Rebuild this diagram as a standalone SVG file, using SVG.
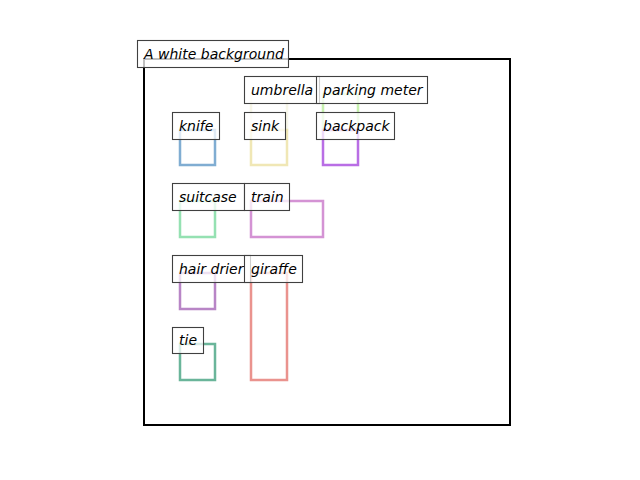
<svg xmlns="http://www.w3.org/2000/svg" width="640" height="480" viewBox="0 0 640 480">
<style>
.frame{fill:none;stroke:#000;stroke-width:2}
.obj{fill:none;stroke-width:2.5;stroke-opacity:0.85}
.lbl rect{fill:#fff;fill-opacity:0.75;stroke:#404040;stroke-width:1.1}
.lbl text{font-family:"DejaVu Sans",sans-serif;font-style:italic;font-size:14px;fill:#000}
</style>
<rect x="0" y="0" width="640" height="480" fill="#fff"/>
<rect class="frame" x="144" y="59" width="366" height="366"/>
<g id="objects">
<rect id="obj-umbrella" class="obj" x="251" y="94" width="36" height="36" stroke="#f6f4e4"/>
<rect id="obj-parking-meter" class="obj" x="323" y="94" width="35" height="36" stroke="#bdf0a0"/>
<rect id="obj-knife" class="obj" x="180" y="130" width="35" height="35" stroke="#6a9fca"/>
<rect id="obj-sink" class="obj" x="251" y="130" width="36" height="35" stroke="#ede3a8"/>
<rect id="obj-backpack" class="obj" x="323" y="130" width="35" height="35" stroke="#ad55e0"/>
<rect id="obj-suitcase" class="obj" x="180" y="201" width="35" height="36" stroke="#82dca4"/>
<rect id="obj-train" class="obj" x="251" y="201" width="72" height="36" stroke="#cc80cc"/>
<rect id="obj-hair-drier" class="obj" x="180" y="273" width="35" height="36" stroke="#ac70bc"/>
<rect id="obj-giraffe" class="obj" x="251" y="273" width="36" height="107" stroke="#e6807a"/>
<rect id="obj-tie" class="obj" x="180" y="344" width="35" height="36" stroke="#50a888"/>
</g>
<g id="label-title" class="lbl"><rect x="137.5" y="40.5" width="151" height="27"/><text x="144" y="59">A white background</text></g>
<g id="label-umbrella" class="lbl"><rect x="244.5" y="76.5" width="75" height="27"/><text x="251" y="95">umbrella</text></g>
<g id="label-parking-meter" class="lbl"><rect x="316.5" y="76.5" width="111" height="27"/><text x="323" y="95">parking meter</text></g>
<g id="label-knife" class="lbl"><rect x="172.5" y="112.5" width="47" height="27"/><text x="179" y="131">knife</text></g>
<g id="label-sink" class="lbl"><rect x="244.5" y="112.5" width="41" height="27"/><text x="251" y="131">sink</text></g>
<g id="label-backpack" class="lbl"><rect x="316.5" y="112.5" width="78" height="27"/><text x="323" y="131">backpack</text></g>
<g id="label-suitcase" class="lbl"><rect x="172.5" y="183.5" width="72" height="27"/><text x="179" y="202">suitcase</text></g>
<g id="label-train" class="lbl"><rect x="244.5" y="183.5" width="45" height="27"/><text x="251" y="202">train</text></g>
<g id="label-hair-drier" class="lbl"><rect x="172.5" y="255.5" width="78" height="27"/><text x="179" y="274">hair drier</text></g>
<g id="label-giraffe" class="lbl"><rect x="244.5" y="255.5" width="58" height="27"/><text x="251" y="274">giraffe</text></g>
<g id="label-tie" class="lbl"><rect x="172.5" y="327.5" width="31" height="26"/><text x="179" y="345">tie</text></g>
</svg>
